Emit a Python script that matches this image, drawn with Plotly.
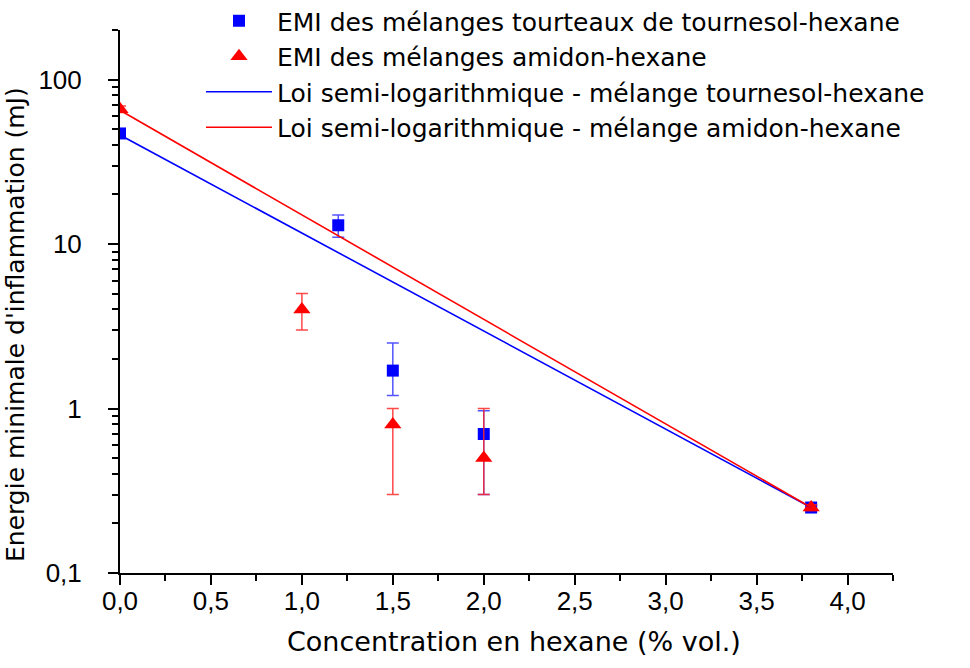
import plotly.graph_objects as go

# ---- data ----
x_tournesol = [0.0, 1.2, 1.5, 2.0, 3.8]
emi_tournesol = [47, 13, 1.7, 0.7, 0.25]
errp_tournesol = [3, 2, 0.8, 0.27, 0.01]
errm_tournesol = [3, 2, 0.5, 0.4, 0.01]

x_amidon = [0.0, 1.0, 1.5, 2.0, 3.8]
emi_amidon = [66, 4, 0.8, 0.5, 0.25]
errp_amidon = [3, 1, 0.2, 0.5, 0.01]
errm_amidon = [3, 1, 0.5, 0.2, 0.01]

x_fit = [0.0, 3.8]
fit_tournesol = [46, 0.25]
fit_amidon = [65, 0.25]

y_tickvals = [0.1, 1, 10, 100]
y_ticktext = ["0,1", "1", "10", "100"]
y_minor = [m * 10 ** e for e in (-1, 0, 1, 2) for m in range(2, 10) if m * 10 ** e <= 200]

names = [
    "EMI des mélanges tourteaux de tournesol-hexane",
    "EMI des mélanges amidon-hexane",
    "Loi semi-logarithmique - mélange tournesol-hexane",
    "Loi semi-logarithmique - mélange amidon-hexane",
]

FONT = "Liberation Sans, Arial, sans-serif"
TFONT = "DejaVu Sans, Liberation Sans, sans-serif"
BLUE = "#0000FF"
RED = "#FF0000"

fig = go.Figure()
fig.add_trace(go.Scatter(
    x=x_tournesol, y=emi_tournesol, mode="markers", name=names[0],
    marker=dict(symbol="square", size=12, color=BLUE),
    error_y=dict(type="data", symmetric=False, array=errp_tournesol, arrayminus=errm_tournesol,
                 color="rgba(40,40,255,0.8)", thickness=1.5, width=6),
))
fig.add_trace(go.Scatter(
    x=x_amidon, y=emi_amidon, mode="markers", name=names[1],
    marker=dict(symbol="triangle-up", size=15, color=RED),
    error_y=dict(type="data", symmetric=False, array=errp_amidon, arrayminus=errm_amidon,
                 color="rgba(255,40,40,0.85)", thickness=1.5, width=6),
))
fig.add_trace(go.Scatter(
    x=x_fit, y=fit_tournesol, mode="lines", name=names[2],
    line=dict(color=BLUE, width=1.6),
))
fig.add_trace(go.Scatter(
    x=x_fit, y=fit_amidon, mode="lines", name=names[3],
    line=dict(color=RED, width=1.6),
))

L, R, T, B = 120, 77, 30, 95
W, H = 970, 668
pw, ph = W - L - R, H - T - B

fig.update_layout(
    width=W, height=H,
    margin=dict(l=L, r=R, t=T, b=B, pad=0, autoexpand=False),
    paper_bgcolor="white", plot_bgcolor="white",
    separators=", ",
    font=dict(family=FONT, size=26, color="black"),
    showlegend=True,
    legend=dict(
        x=(201 - L) / pw, xanchor="left",
        y=1 + (T + 2) / ph, yanchor="top",
        bgcolor="rgba(0,0,0,0)", borderwidth=0,
        font=dict(family=TFONT, size=25, color="black"),
        itemwidth=66, tracegroupgap=0,
    ),
    xaxis=dict(
        range=[0, 4.25], dtick=0.5, tick0=0, tickformat=".1f",
        showgrid=False, zeroline=False,
        showline=True, linecolor="black", linewidth=2,
        ticks="outside", ticklen=10, tickwidth=2, tickcolor="black",
        ticklabelstandoff=-6,
        tickfont=dict(family=FONT, size=26, color="black"),
        minor=dict(dtick=0.25, tick0=0, ticks="outside", ticklen=6, tickwidth=2, tickcolor="black"),
    ),
    yaxis=dict(
        type="log", range=[-1, 2.30103],
        tickmode="array", tickvals=y_tickvals, ticktext=y_ticktext,
        showgrid=False, zeroline=False,
        showline=True, linecolor="black", linewidth=2,
        ticks="outside", ticklen=10, tickwidth=2, tickcolor="black",
        ticklabelstandoff=21,
        tickfont=dict(family=FONT, size=26, color="black"),
        minor=dict(tickmode="array", tickvals=y_minor, ticks="outside", ticklen=6,
                   tickwidth=2, tickcolor="black"),
    ),
    annotations=[
        dict(text="Concentration en hexane (% vol.)", xref="paper", yref="paper",
             x=(514 - L) / pw, y=-(641 - (T + ph)) / ph, xanchor="center", yanchor="middle",
             showarrow=False, font=dict(family=TFONT, size=27, color="black")),
        dict(text="Energie minimale d'inflammation (mJ)", xref="paper", yref="paper",
             x=(15 - L) / pw, y=((T + ph) - 325) / ph, xanchor="center", yanchor="middle",
             textangle=-90, showarrow=False, font=dict(family=TFONT, size=25, color="black")),
    ],
)

fig.write_html("out.html", config={"displayModeBar": False},
               post_script="document.body.style.margin='0px';")
